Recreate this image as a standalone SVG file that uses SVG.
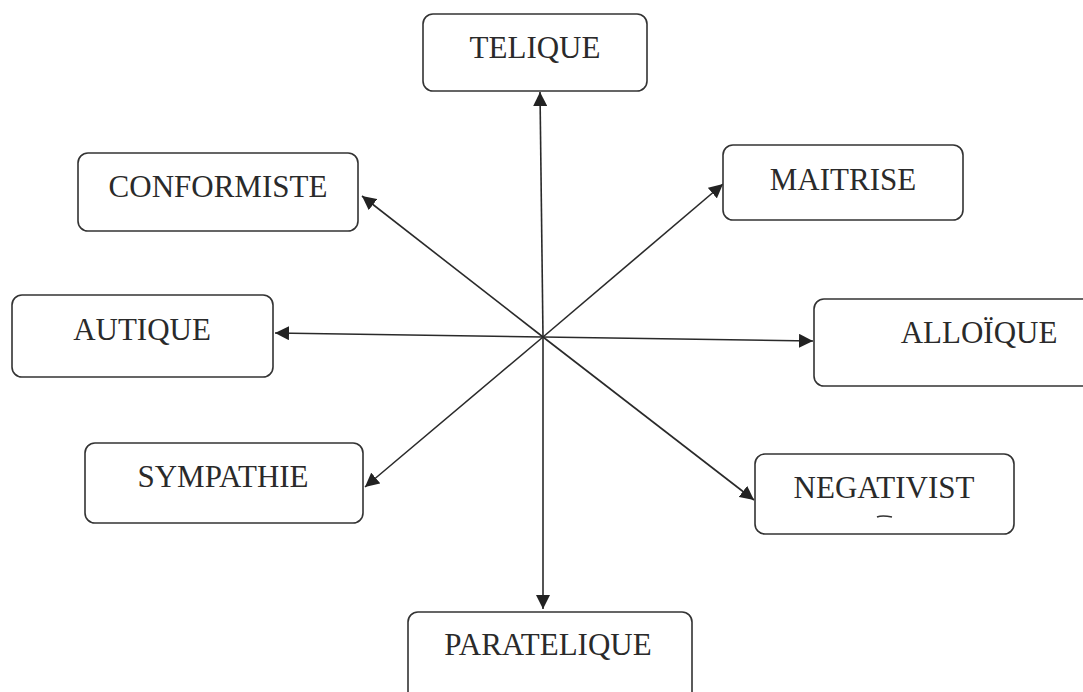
<svg xmlns="http://www.w3.org/2000/svg" width="1083" height="692" viewBox="0 0 1083 692">
<style>
.box{fill:#fff;stroke:#333;stroke-width:1.6}
.lbl{font-family:"Liberation Serif","Times New Roman",serif;font-size:31px;fill:#2a2a2a;text-anchor:middle}
.con{stroke:#2a2a2a;stroke-width:1.6;fill:none;marker-end:url(#ah)}
</style>
<defs>
<marker id="ah" markerUnits="userSpaceOnUse" markerWidth="15" markerHeight="14" refX="14" refY="7" orient="auto">
<path d="M0,0 L14,7 L0,14 Z" fill="#222"/>
</marker>
</defs>
<rect width="1083" height="692" fill="#fff"/>
<g id="connectors">
<line class="con" x1="543" y1="337" x2="540" y2="92"/>
<line class="con" x1="543" y1="337" x2="543" y2="609"/>
<line class="con" x1="543" y1="337" x2="362" y2="196"/>
<line class="con" x1="543" y1="337" x2="723" y2="184"/>
<line class="con" x1="543" y1="337" x2="275" y2="333"/>
<line class="con" x1="543" y1="337" x2="813" y2="341"/>
<line class="con" x1="543" y1="337" x2="365" y2="487"/>
<line class="con" x1="543" y1="337" x2="754" y2="500"/>
</g>
<g id="telique"><rect class="box" x="423" y="14" width="224" height="77" rx="10"/><text class="lbl" x="535" y="58">TELIQUE</text></g>
<g id="conformiste"><rect class="box" x="78" y="153" width="280" height="78" rx="10"/><text class="lbl" x="218" y="197">CONFORMISTE</text></g>
<g id="maitrise"><rect class="box" x="723" y="145" width="240" height="75" rx="10"/><text class="lbl" x="843" y="190">MAITRISE</text></g>
<g id="autique"><rect class="box" x="12" y="295" width="261" height="82" rx="10"/><text class="lbl" x="142" y="340">AUTIQUE</text></g>
<g id="alloique"><rect class="box" x="814" y="299" width="280" height="87" rx="10"/><text class="lbl" x="979" y="343">ALLOÏQUE</text></g>
<g id="sympathie"><rect class="box" x="85" y="443" width="278" height="80" rx="10"/><text class="lbl" x="223" y="487">SYMPATHIE</text></g>
<g id="negativist"><rect class="box" x="755" y="454" width="259" height="80" rx="10"/><text class="lbl" x="884" y="498">NEGATIVIST</text><path d="M877,517 Q882,515 892,517" stroke="#333" stroke-width="1.5" fill="none"/></g>
<g id="paratelique"><rect class="box" x="408" y="612" width="284" height="90" rx="10"/><text class="lbl" x="548" y="655">PARATELIQUE</text></g>
</svg>
